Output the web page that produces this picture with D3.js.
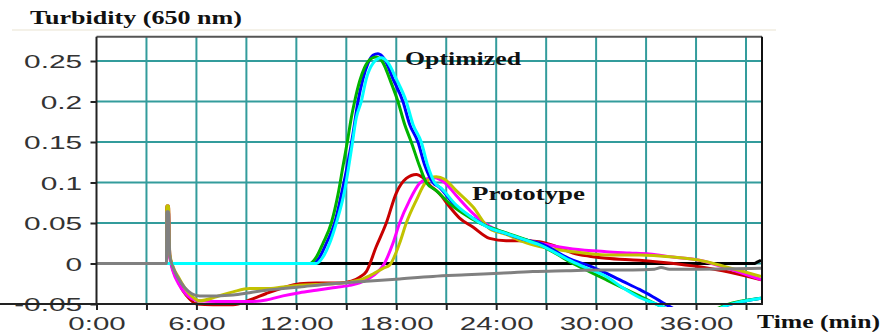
<!DOCTYPE html>
<html>
<head>
<meta charset="utf-8">
<title>Turbidity (650 nm)</title>
<script src="https://d3js.org/d3.v7.min.js"></script>
<style>
  body { margin: 0; background: #fff; }
  .tick text { font-family: "Liberation Sans", Arial, sans-serif; font-size: 18px; fill: #333; }
  .lbl { font-family: "Liberation Serif", "Times New Roman", serif; font-weight: bold; font-size: 18px; fill: #111; }
</style>
</head>
<body>
<div id="chart"></div>
<script>
// axis ticks (minutes, turbidity)
const timeTicks = [0, 3, 6, 9, 12, 15, 18, 21, 24, 27, 30, 33, 36, 39];
const timeLabels = ["0:00", "", "6:00", "", "12:00", "", "18:00", "", "24:00", "", "30:00", "", "36:00", ""];
const turbTicks = [-0.05, 0, 0.05, 0.1, 0.15, 0.2, 0.25];
const turbLabels = ["-0.05", "0", "0.05", "0.1", "0.15", "0.2", "0.25"];

// runs: [time (min), turbidity]
const blackRun = [[13.2, 0], [39.5, 0], [39.7, 0.002], [39.9, 0.004]];
const redRun = [[0, 0], [4.2, 0], [4.22, 0.071], [4.32, 0.071], [4.4, 0.01], [4.6, -0.008], [4.85, -0.02], [5.2, -0.034], [5.6, -0.044], [6.0, -0.05], [7.0, -0.051], [8.2, -0.051], [9.2, -0.045], [10.2, -0.037], [11.2, -0.03], [12.2, -0.025], [13.2, -0.024], [14.6, -0.024], [15.3, -0.022], [15.8, -0.017], [16.2, -0.01], [16.8, 0.021], [17.4, 0.05], [18.0, 0.087], [18.6, 0.105], [19.2, 0.11], [19.6, 0.106], [20.0, 0.097], [20.6, 0.086], [21.2, 0.07], [21.8, 0.056], [22.6, 0.045], [23.6, 0.031], [24.6, 0.028], [25.6, 0.028], [26.6, 0.027], [27.6, 0.021], [28.6, 0.013], [29.6, 0.009], [30.6, 0.0065], [32.6, 0.004], [34.2, 0.001], [36.2, -0.004], [37.6, -0.009], [39.9, -0.02]];
const magentaRun = [[0, 0], [4.2, 0], [4.22, 0.064], [4.32, 0.064], [4.4, 0.008], [4.6, -0.01], [4.9, -0.024], [5.3, -0.036], [5.7, -0.043], [6.2, -0.046], [7.2, -0.047], [8.2, -0.047], [9.2, -0.047], [10.2, -0.045], [11.2, -0.04], [12.2, -0.036], [13.2, -0.033], [14.2, -0.03], [15.2, -0.027], [15.8, -0.024], [16.4, -0.018], [16.9, -0.01], [17.2, -0.003], [17.8, 0.025], [18.2, 0.05], [18.8, 0.078], [19.4, 0.099], [19.9, 0.105], [20.3, 0.106], [20.9, 0.1], [21.6, 0.084], [22.6, 0.062], [23.6, 0.046], [24.6, 0.037], [25.6, 0.03], [26.6, 0.025], [28.6, 0.018], [30.6, 0.0146], [32.0, 0.013], [33.2, 0.0117], [34.6, 0.008], [36.2, 0.004], [37.6, -0.004], [39.9, -0.02]];
const yellowRun = [[0, 0], [4.2, 0], [4.22, 0.071], [4.32, 0.071], [4.4, 0.012], [4.6, -0.004], [4.9, -0.016], [5.3, -0.03], [5.7, -0.04], [6.2, -0.046], [7.2, -0.041], [8.2, -0.035], [9.2, -0.031], [10.2, -0.031], [11.2, -0.029], [12.2, -0.027], [13.2, -0.026], [14.2, -0.025], [15.2, -0.023], [16.0, -0.019], [16.6, -0.013], [17.2, -0.006], [17.6, -0.002], [18.2, 0.025], [18.6, 0.05], [19.2, 0.078], [19.8, 0.101], [20.4, 0.107], [20.9, 0.104], [21.6, 0.09], [22.6, 0.07], [23.6, 0.043], [24.6, 0.036], [25.6, 0.027], [26.6, 0.021], [28.6, 0.0146], [30.6, 0.0105], [32.6, 0.0105], [34.6, 0.008], [36.2, 0.004], [37.6, -0.003], [39.9, -0.016]];
const blueRun = [[0, 0], [13.0, 0], [13.4, 0.008], [13.8, 0.025], [14.3, 0.05], [14.7, 0.085], [15.1, 0.125], [15.4, 0.16], [15.7, 0.2], [16.0, 0.228], [16.3, 0.247], [16.6, 0.257], [16.9, 0.259], [17.3, 0.252], [17.8, 0.228], [18.4, 0.2], [18.8, 0.172], [19.3, 0.15], [19.7, 0.122], [20.2, 0.1], [20.6, 0.094], [21.5, 0.072], [22.6, 0.056], [23.6, 0.044], [24.6, 0.037], [25.6, 0.03], [26.6, 0.025], [28.6, 0.004], [29.6, -0.003], [30.6, -0.012], [31.6, -0.022], [32.6, -0.032], [33.4, -0.041], [34.4, -0.053], [35.5, -0.062], [36.5, -0.063], [37.8, -0.052], [39.9, -0.043]];
const greenRun = [[0, 0], [12.8, 0], [13.2, 0.008], [13.6, 0.025], [14.1, 0.05], [14.5, 0.085], [14.8, 0.12], [15.1, 0.155], [15.3, 0.18], [15.5, 0.2], [15.8, 0.225], [16.1, 0.242], [16.5, 0.253], [16.8, 0.255], [17.2, 0.248], [17.6, 0.228], [18.1, 0.2], [18.5, 0.172], [18.9, 0.15], [19.4, 0.12], [19.8, 0.1], [20.4, 0.09], [21.2, 0.074], [22.0, 0.062], [23.0, 0.05], [24.0, 0.042], [25.0, 0.035], [26.6, 0.023], [27.6, 0.012], [28.6, 0.0], [29.6, -0.01], [30.6, -0.02], [31.6, -0.03], [32.6, -0.04], [33.6, -0.05], [34.5, -0.058], [35.5, -0.064], [36.5, -0.062], [37.8, -0.051], [39.9, -0.043]];
const cyanRun = [[0, 0], [13.2, 0], [13.6, 0.008], [14.0, 0.025], [14.4, 0.05], [14.9, 0.09], [15.3, 0.14], [15.6, 0.18], [15.9, 0.2], [16.2, 0.228], [16.6, 0.247], [17.1, 0.254], [17.5, 0.248], [18.0, 0.228], [18.6, 0.2], [19.0, 0.172], [19.5, 0.15], [19.9, 0.12], [20.3, 0.1], [20.7, 0.093], [21.6, 0.072], [22.6, 0.056], [23.6, 0.044], [24.6, 0.037], [25.6, 0.03], [26.6, 0.023], [28.6, 0.002], [29.6, -0.007], [30.6, -0.016], [31.6, -0.03], [32.6, -0.042], [33.6, -0.05], [34.5, -0.058], [35.5, -0.063], [36.5, -0.063], [37.8, -0.052], [39.9, -0.043]];
const grayRun = [[0, 0], [4.2, 0], [4.22, 0.064], [4.32, 0.064], [4.4, 0.01], [4.6, -0.005], [4.9, -0.018], [5.3, -0.03], [5.7, -0.037], [6.2, -0.04], [7.2, -0.04], [8.2, -0.039], [9.2, -0.036], [10.2, -0.033], [11.2, -0.031], [12.2, -0.029], [14.2, -0.025], [16.2, -0.022], [18.2, -0.019], [20.2, -0.016], [22.2, -0.014], [24.2, -0.012], [26.2, -0.01], [28.2, -0.009], [30.2, -0.008], [32.2, -0.008], [33.5, -0.007], [33.9, -0.005], [34.4, -0.007], [36.2, -0.007], [39.9, -0.006]];

const W = 884, H = 334;
const x = d3.scaleLinear().domain([0, 39.9]).range([96.5, 761]);
const y = d3.scaleLinear().domain([-0.05, 0.28]).range([304, 36.7]);
const teal = "#339c9c";

const svg = d3.select("#chart").append("svg")
    .attr("width", W).attr("height", H);

// faint rule under the title
svg.append("line")
    .attr("x1", 12).attr("x2", 776).attr("y1", 30).attr("y2", 30)
    .attr("stroke", "#f1ede0").attr("stroke-width", 1.5);

// grid
svg.append("g").selectAll("line").data(timeTicks.filter(d => d > 0)).enter()
    .append("line")
    .attr("x1", d => x(d)).attr("x2", d => x(d))
    .attr("y1", y.range()[1]).attr("y2", y.range()[0])
    .attr("stroke", teal).attr("stroke-width", 2);
svg.append("g").selectAll("line").data(turbTicks.filter(d => d > -0.05)).enter()
    .append("line")
    .attr("x1", x.range()[0]).attr("x2", x.range()[1])
    .attr("y1", d => y(d)).attr("y2", d => y(d))
    .attr("stroke", teal).attr("stroke-width", 2);

// curves, clipped to the plot frame
svg.append("clipPath").attr("id", "plot")
    .append("rect")
    .attr("x", x.range()[0]).attr("y", y.range()[1])
    .attr("width", x.range()[1] - x.range()[0] + 2)
    .attr("height", y.range()[0] - y.range()[1] + 3);

const line = d3.line()
    .x(d => x(d[0])).y(d => y(d[1]))
    .curve(d3.curveMonotoneX);

const runs = [
    { data: blackRun, color: "#000000" },
    { data: redRun, color: "#c80000" },
    { data: magentaRun, color: "#ff00ff" },
    { data: yellowRun, color: "#c2c200" },
    { data: blueRun, color: "#0000ff" },
    { data: greenRun, color: "#00b400" },
    { data: cyanRun, color: "#00ffff" },
    { data: grayRun, color: "#808080" }
];

svg.append("g").attr("clip-path", "url(#plot)")
    .selectAll("path").data(runs).enter()
    .append("path")
    .attr("d", d => line(d.data))
    .attr("fill", "none")
    .attr("stroke", d => d.color)
    .attr("stroke-width", 3)
    .attr("stroke-linejoin", "round");

// frame: top and right
svg.append("line")
    .attr("x1", x.range()[0]).attr("x2", x.range()[1] + 1)
    .attr("y1", y.range()[1]).attr("y2", y.range()[1])
    .attr("stroke", "#555").attr("stroke-width", 2);
svg.append("line")
    .attr("x1", x.range()[1] + 1).attr("x2", x.range()[1] + 1)
    .attr("y1", y.range()[1]).attr("y2", y.range()[0])
    .attr("stroke", "#111").attr("stroke-width", 2);

// axes
const yAxis = svg.append("g")
    .attr("transform", "translate(" + x.range()[0] + ",0)")
    .call(d3.axisLeft(y).tickValues(turbTicks).tickSize(6).tickPadding(3)
        .tickFormat((d, i) => turbLabels[i]));
const xAxis = svg.append("g")
    .attr("transform", "translate(0," + y.range()[0] + ")")
    .call(d3.axisBottom(x).tickValues(timeTicks).tickSize(6).tickPadding(3)
        .tickFormat((d, i) => timeLabels[i]));

[yAxis, xAxis].forEach(g => {
    g.select(".domain").attr("stroke", "#222").attr("stroke-width", 2);
    g.selectAll(".tick line").attr("stroke", "#222").attr("stroke-width", 2);
    g.attr("font-size", null).attr("font-family", null);
});
xAxis.select(".domain").attr("d", "M0,0H" + (x.range()[1] + 2));
yAxis.select(".domain").attr("d", "M0," + y.range()[1] + "V" + (y.range()[0] + 1));
yAxis.selectAll(".tick text")
    .attr("transform", "scale(1.66,1)")
    .attr("x", -8.6).attr("dy", "0.38em");
xAxis.selectAll(".tick text")
    .attr("transform", "scale(1.64,1)")
    .attr("y", 13).attr("dy", "0.71em");

// labels
const labels = [
    { text: "Turbidity (650 nm)", x: 30, y: 24, w: 212 },
    { text: "Optimized", x: 405, y: 65, w: 116 },
    { text: "Prototype", x: 472, y: 200, w: 113 },
    { text: "Time (min)", x: 757, y: 328, w: 123 }
];
svg.selectAll(".lbl").data(labels).enter()
    .append("text")
    .attr("class", "lbl")
    .attr("x", d => d.x).attr("y", d => d.y)
    .attr("textLength", d => d.w)
    .attr("lengthAdjust", "spacingAndGlyphs")
    .text(d => d.text);
</script>
</body>
</html>
